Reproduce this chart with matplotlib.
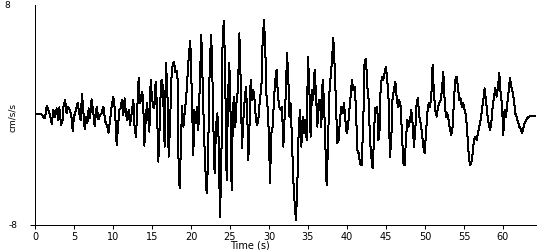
import matplotlib
matplotlib.use("Agg")
import matplotlib.pyplot as plt
import numpy as np

# --- accelerogram (time in s, accel in cm/s/s) ---
# 0 - 20 s: build-up
t_early = [0.0, 0.64, 0.73, 1.07, 1.28, 1.5, 1.71, 1.92, 2.14, 2.35, 2.56, 2.78,
           2.99, 3.12, 3.33, 3.55, 3.63, 3.85, 4.06, 4.23, 4.49, 4.7, 4.83, 5.0,
           5.26, 5.47, 5.68, 5.85, 6.03, 6.2, 6.37, 6.54, 6.71, 6.88, 7.05, 7.26,
           7.48, 7.65, 7.91, 8.12, 8.33, 8.55, 8.76, 9.02, 9.27, 9.44, 9.62, 9.83,
           10.04, 10.26, 10.47, 10.64, 10.81, 10.98, 11.15, 11.32, 11.5, 11.67,
           11.84, 12.01, 12.18, 12.39, 12.61, 12.78, 12.95, 13.12, 13.29, 13.46,
           13.59, 13.76, 13.89, 14.02, 14.19, 14.36, 14.49, 14.66, 14.83, 15.0,
           15.17, 15.3, 15.47, 15.64, 15.81, 15.98, 16.15, 16.32, 16.5, 16.62,
           16.79, 16.97, 17.14, 17.31, 17.48, 17.65, 17.82, 17.99, 18.16, 18.29,
           18.42, 18.55, 18.68, 18.85, 19.02, 19.19, 19.36, 19.53, 19.74, 19.91,
           20.09, 20.3]
a_early = [0.05, 0.05, 0.1, -0.12, -0.24, 0.65, 0.36, 0.0, -0.65, 0.36, -0.12, 0.48,
           -0.36, 0.56, -0.73, -0.36, 0.56, 1.09, 0.12, 0.61, 0.36, -0.24, -1.16, -0.12,
           0.36, 0.9, 0.12, -0.36, 1.5, 0.24, -1.04, -0.12, -0.61, 0.48, -0.24, 1.14,
           0.12, -0.8, 0.61, -0.32, 0.0, 0.12, 0.61, -0.48, -0.8, -1.28, -0.36, 0.65,
           1.33, 0.36, -2.2, -0.85, 0.36, 0.48, 1.09, 0.0, 1.21, 0.0,
           -0.36, 0.36, -0.73, 0.12, 1.09, -1.04, -1.58, 0.61, 2.69, 0.85,
           1.09, 1.7, 0.61, -2.23, -0.36, 0.85, 0.12, -1.21, 2.55, 1.21,
           0.61, 0.48, 2.42, 0.61, -3.39, -0.85, 2.42, 2.55, 0.36, -2.3,
           3.8, 1.82, -3.03, -0.85, 2.55, 3.64, 3.88, 3.15, 3.22, 2.55,
           -4.24, -5.33, -2.79, 0.65, -0.85, 0.12, 1.09, 2.55, 4.48, 5.38,
           1.82, -2.91]

# 20 - 42 s: strong motion
t_strong = [20.43, 20.64, 20.77, 20.94, 21.15, 21.32, 21.5, 21.67, 21.84, 22.01,
            22.18, 22.35, 22.56, 22.69, 22.86, 23.03, 23.21, 23.38, 23.55, 23.72,
            23.89, 24.06, 24.23, 24.4, 24.57, 24.74, 24.91, 25.04, 25.21, 25.38,
            25.51, 25.68, 25.85, 26.03, 26.2, 26.37, 26.54, 26.71, 26.88, 27.05,
            27.22, 27.35, 27.48, 27.65, 27.82, 27.99, 28.16, 28.33, 28.5, 28.68,
            28.85, 29.02, 29.19, 29.36, 29.53, 29.7, 29.87, 30.04, 30.13, 30.3,
            30.47, 30.64, 30.81, 30.98, 31.15, 31.32, 31.5, 31.67, 31.84, 32.01,
            32.18, 32.31, 32.48, 32.61, 32.78, 32.95, 33.12, 33.29, 33.46, 33.63,
            33.8, 33.97, 34.15, 34.32, 34.49, 34.66, 34.83, 35.0, 35.17, 35.34,
            35.51, 35.68, 35.85, 36.03, 36.2, 36.37, 36.54, 36.71, 36.88, 37.05,
            37.22, 37.39, 37.56, 37.74, 37.91, 38.08, 38.25, 38.42, 38.59, 38.76,
            38.93, 39.1, 39.27, 39.44, 39.62, 39.79, 39.96, 40.13, 40.3, 40.47,
            40.64, 40.81, 40.98, 41.15, 41.32, 41.5, 41.67]
a_strong = [0.36, -0.61, 0.61, -1.09, 2.55, 5.82, 2.3, -1.33, -3.88, -5.7,
            -3.52, 2.3, 5.82, 4.48, -0.61, -4.24, -0.85, 0.12, -1.82, -7.39,
            -3.76, 5.94, 6.86, 2.3, -4.73, 1.09, 3.76, 1.33, -5.45, 0.36,
            1.33, -0.85, 1.09, 1.82, 5.94, 2.55, -2.42, -0.36, 1.09, 2.06,
            0.0, -3.27, -1.33, 2.55, 1.09, 1.82, 1.09, -0.36, -0.73, -0.12,
            1.33, 1.82, 5.45, 6.91, 4.73, 1.09, 0.36, -2.55, -4.97, -1.33,
            -0.85, 1.09, 2.55, 3.27, 1.33, 0.61, 0.36, 0.61, -2.3, -0.12,
            1.82, 4.48, 2.79, -0.12, 0.85, -2.06, -4.73, -6.42, -7.64, -5.21,
            -1.33, 0.36, -2.3, -0.12, -1.33, -0.36, -1.82, 4.24, 2.06, -1.58,
            1.82, 1.09, 3.27, 1.58, -0.85, 1.09, 1.09, -0.85, 2.55, 1.09,
            -2.06, -5.09, -2.3, 1.58, 2.79, 4.0, 5.58, 3.52, 0.85, -2.06,
            -1.82, -0.36, 0.61, 0.12, 0.85, -0.36, -1.33, -0.85, 0.36, 1.33,
            2.55, 1.82, 2.06, 0.61, -2.55, -2.79, -3.52]

# 42 - 64 s: coda
t_coda = [41.88, 42.09, 42.26, 42.44, 42.61, 42.78, 42.95, 43.12, 43.29, 43.46,
          43.59, 43.72, 43.89, 44.02, 44.15, 44.32, 44.49, 44.66, 44.83, 45.0,
          45.17, 45.34, 45.51, 45.68, 45.85, 46.03, 46.2, 46.37, 46.54, 46.71,
          46.88, 47.05, 47.22, 47.39, 47.56, 47.74, 47.91, 48.08, 48.25, 48.42,
          48.59, 48.76, 48.93, 49.1, 49.27, 49.44, 49.62, 49.79, 49.96, 50.13,
          50.3, 50.47, 50.64, 50.81, 50.98, 51.15, 51.32, 51.5, 51.67, 51.84,
          52.01, 52.18, 52.35, 52.52, 52.69, 52.86, 53.03, 53.21, 53.38, 53.55,
          53.72, 53.89, 54.06, 54.23, 54.4, 54.57, 54.74, 54.91, 55.09, 55.26,
          55.43, 55.6, 55.77, 55.94, 56.11, 56.28, 56.45, 56.62, 56.79, 56.97,
          57.14, 57.31, 57.48, 57.65, 57.82, 57.99, 58.16, 58.33, 58.5, 58.68,
          58.85, 59.02, 59.19, 59.36, 59.53, 59.7, 59.87, 60.04, 60.21, 60.38,
          60.56, 60.73, 60.9, 61.07, 61.24, 61.41, 61.58, 61.75, 61.92, 62.09,
          62.26, 62.44, 62.61, 62.78, 62.95, 63.12, 63.29, 63.46, 64.18]
a_coda = [-3.64, -0.61, 4.0, 4.06, 2.06, 1.09, -1.82, -3.03, -3.88, -1.82,
          0.48, 0.12, 0.61, -1.82, -1.58, 2.06, 2.79, 2.55, 3.03, 3.52,
          2.55, 1.09, -3.03, -1.82, 1.33, 1.82, 2.42, 1.33, 0.61, 1.09,
          0.61, -1.33, -3.52, -3.64, -1.82, -0.36, -0.85, -0.36, 0.36, -0.61,
          -2.3, -1.09, 0.85, 1.21, -0.12, -0.61, -1.33, -2.3, -2.79, -1.33,
          0.12, 0.85, 0.61, 1.33, 3.64, 1.58, 0.36, -0.12, 0.61, 0.85,
          1.09, 1.82, 3.15, 1.09, -0.12, 0.12, -0.36, -1.09, -1.45, -0.85,
          1.09, 2.55, 2.79, 2.06, 1.09, 1.21, 0.61, 0.85, 0.36, 0.0,
          -1.33, -2.79, -3.64, -3.52, -2.79, -1.82, -1.58, -1.82, -1.33, -0.85,
          -0.36, 0.36, 1.09, 1.94, 1.09, 0.12, -0.61, -1.09, -0.61, 0.61,
          1.33, 1.94, 1.33, 2.06, 3.03, 1.58, 0.85, -1.45, 0.36, -0.12,
          0.85, 1.82, 2.67, 2.06, 1.7, 1.09, 0.12, -0.12, -0.48, -0.85,
          -0.97, -1.33, -0.97, -0.61, -0.36, -0.24, -0.12, -0.1, -0.1]

time = np.array(t_early + t_strong + t_coda)
accel = np.array(a_early + a_strong + a_coda)

x_ticks = list(range(0, 65, 5))

fig = plt.figure(figsize=(5.5, 2.5), dpi=100)
ax = fig.add_axes([35 / 550, 0.1, 500.7 / 550, 0.88])

# old-style bitmap plot: crisp 1px line, no smoothing
ax.plot(time, accel, color='black', linewidth=0.72, antialiased=False)

ax.set_xlim(0, 64.2)
ax.set_ylim(-8, 8)

for side in ('top', 'right'):
    ax.spines[side].set_visible(False)
for side in ('left', 'bottom'):
    ax.spines[side].set_linewidth(0.72)
    ax.spines[side].set_antialiased(False)

ax.set_xticks(x_ticks)
ax.set_xticklabels([str(v) for v in x_ticks])
ax.tick_params(axis='x', direction='out', length=3, width=0.72, pad=1.8, labelsize=7)
# only the little stub at -8 on the y axis
ax.set_yticks([-8])
ax.set_yticklabels([''])
ax.tick_params(axis='y', direction='out', length=3.6, width=0.72)

fig.text(7 / 550, 1 - 5.8 / 250, '8', fontsize=6.5, ha='center', va='center')
fig.text(13 / 550, 1 - 225.5 / 250, '-8', fontsize=6.5, ha='center', va='center')
fig.text(12 / 550, 1 - 118 / 250, 'cm/s/s', fontsize=6.5, rotation=90,
         ha='center', va='center')
fig.text(250 / 550, 1 - 245.5 / 250, 'Time (s)', fontsize=7, ha='center', va='center')

fig.savefig('out.png', dpi=100)
